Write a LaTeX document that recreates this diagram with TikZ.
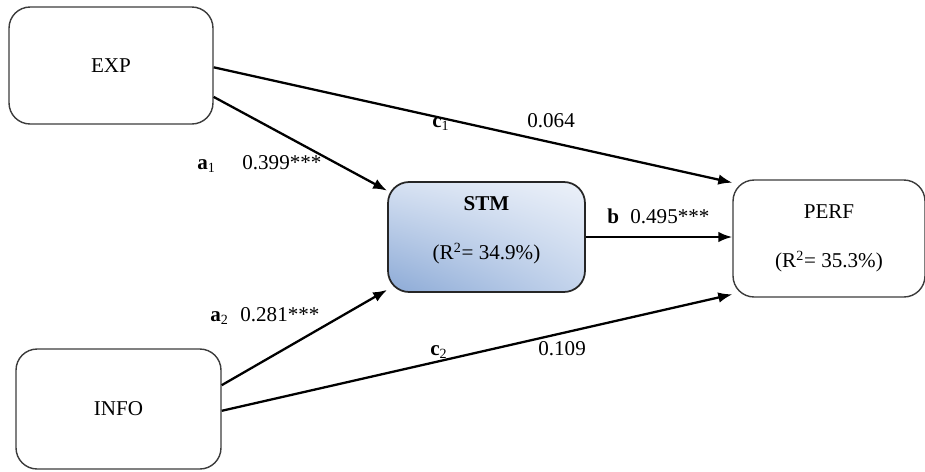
\documentclass[tikz,border=0pt]{standalone}
\usepackage{fontspec}
\setmainfont{Liberation Serif}
\usepackage{tikz}
\usetikzlibrary{arrows.meta,shadings}
\definecolor{boxline}{HTML}{3C3C3C}
\definecolor{stmUL}{HTML}{D6E1F2}
\definecolor{stmUR}{HTML}{ECF1F9}
\definecolor{stmLL}{HTML}{8CAAD6}
\definecolor{stmLR}{HTML}{C4D4EC}
\tikzstyle{node_box} = [rectangle, draw=boxline, line width=0.8pt, rounded corners=12pt, align=center, font=\fontsize{12}{14}\selectfont]
\tikzstyle{node_shaded} = [node_box, draw=black!85, line width=1pt, upper left=stmUL, upper right=stmUR, lower left=stmLL, lower right=stmLR]
\tikzstyle{node_label} = [inner sep=0pt, anchor=base west, font=\fontsize{12}{14}\selectfont]
\tikzstyle{edge_normal} = [line width=1.3pt, -{Latex[length=8pt,width=6pt]}]

\begin{document}
\begin{tikzpicture}[x=0.02cm, y=-0.02cm]
\useasboundingbox (0,0) rectangle (925,471);
\node (EXP) at (111,65.5) [node_box, minimum width=4.08cm, minimum height=2.34cm] {EXP};
\node (INFO) at (118.5,409) [node_box, minimum width=4.1cm, minimum height=2.4cm] {INFO};
\node (STM) at (486.5,237) [node_shaded, minimum width=3.94cm, minimum height=2.2cm] {\textbf{STM}\\[14pt](R\textsuperscript{2}= 34.9\%)\\[-4pt]};
\node (PERF) at (829,238.5) [node_box, minimum width=3.84cm, minimum height=2.34cm] {PERF\\[14pt](R\textsuperscript{2}= 35.3\%)};
\draw[edge_normal] (EXP.-1.5)--(PERF.150);
\draw[edge_normal] (EXP.-17)--(STM.155);
\draw[edge_normal] (INFO.13)--(STM.208);
\draw[edge_normal] (INFO.-1.5)--(PERF.210);
\draw[edge_normal] (STM.east)--(STM.east -| PERF.west);
\node (a1) at (197,169) [node_label] {\textbf{a}\textsubscript{1}};
\node (va1) at (242,169) [node_label] {0.399***};
\node (c1) at (432,127) [node_label] {\textbf{c}\textsubscript{1}};
\node (vc1) at (527,127) [node_label] {0.064};
\node (a2) at (210,321) [node_label] {\textbf{a}\textsubscript{2}};
\node (va2) at (240,321) [node_label] {0.281***};
\node (c2) at (430,355) [node_label] {\textbf{c}\textsubscript{2}};
\node (vc2) at (538,355) [node_label] {0.109};
\node (b) at (607,223) [node_label] {\textbf{b}};
\node (vb) at (630,223) [node_label] {0.495***};
\end{tikzpicture}
\end{document}
